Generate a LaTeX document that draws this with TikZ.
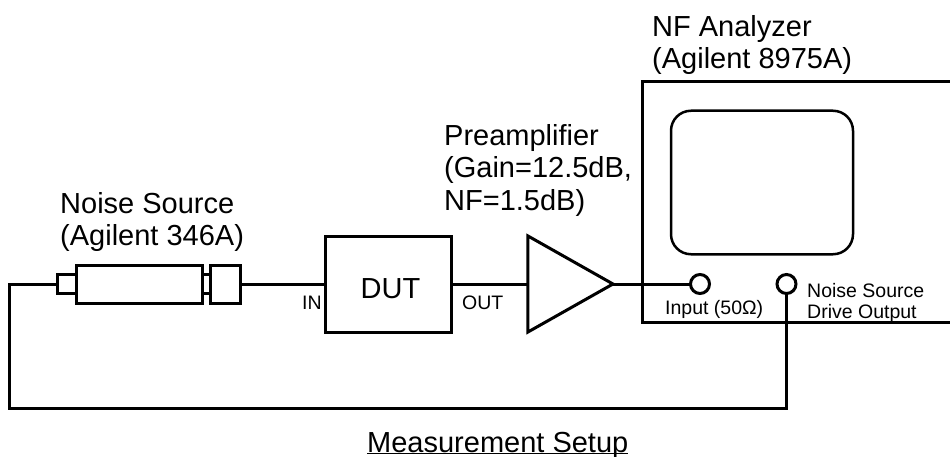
\documentclass[tikz,border=0pt]{standalone}
\usepackage{fontspec}
\setmainfont{Liberation Sans}
\usetikzlibrary{shapes.geometric}
\tikzset{
  box/.style={draw=black,line width=3pt,rectangle,inner sep=0pt,outer sep=0pt,fill=white},
  wire/.style={draw=black,line width=3pt,line join=miter},
  jack/.style={draw=black,line width=3pt,circle,inner sep=0pt,outer sep=0pt,minimum size=19pt,fill=white},
  big/.style={font=\fontsize{29}{32.5}\selectfont,align=left,anchor=north west,inner sep=0pt},
  small/.style={font=\fontsize{19.5}{21}\selectfont,align=left,inner sep=0pt},
  amp/.style={draw=black,line width=3pt,isosceles triangle,isosceles triangle stretches,shape border rotate=0,inner sep=0pt,outer sep=0pt,minimum height=85pt,minimum width=96pt,fill=white}
}
\begin{document}
\begin{tikzpicture}[x=1pt,y=-1pt]
\useasboundingbox (0,0) rectangle (950,457);
\coordinate (c1) at (9,284);
\coordinate (c2) at (9,408.5);
\coordinate (c3) at (786.5,408.5);
\coordinate (ar) at (950,322);
\coordinate (at) at (950,81.5);
\coordinate (ab) at (642,322);
\coordinate (al) at (642,81.5);
\draw[wire] (at) -- (al) -- (ab) -- (ar);
\node[box,minimum width=182pt,minimum height=143.5pt,rounded corners=20pt,line width=2.5pt] (screen) at (762,182.5) {};
\node[box,minimum width=19pt,minimum height=19pt] (tail) at (66.5,284) {};
\node[box,minimum width=126pt,minimum height=38pt] (body) at (139,284) {};
\node[box,minimum width=8pt,minimum height=19pt] (neck) at (206,284) {};
\node[box,minimum width=30pt,minimum height=38pt] (head) at (225,284) {};
\node[box,minimum width=125.5pt,minimum height=96pt,font=\fontsize{29}{32}\selectfont,text height=28pt,text depth=0pt] (dut) at (388.5,284) {\hspace*{4pt}DUT};
\node[amp] (pre) at (556,284) {};
\node[jack] (in) at (700,284) {};
\node[jack] (drv) at (786.5,284) {};
\draw[wire] (tail.west) -- (c1) -- (c2) -- (c3) -- (drv.south);
\draw[wire] (head.east) -- (dut.west);
\draw[wire] (dut.east) -- (pre.lower side);
\draw[wire] (pre.apex) -- (in.west);
\node[big] (lna) at (652,15) {NF Analyzer\\(Agilent 8975A)};
\node[big] (lpr) at (444,124) {Preamplifier\\(Gain=12.5dB,\\NF=1.5dB)};
\node[big] (lns) at (60,192) {Noise Source\\(Agilent 346A)};
\node[small,anchor=base west] (lin) at (302,309) {IN};
\node[small,anchor=base west] (lout) at (462,309) {OUT};
\node[small,anchor=base west] (linp) at (665,314) {Input (50Ω)};
\node[small,anchor=north west] (ldrv) at (807,283) {Noise Source\\Drive Output};
\node[font=\fontsize{29}{32}\selectfont,anchor=base west,inner sep=0pt] (cap) at (367,452) {\underbar{Measurement Setup}};
\end{tikzpicture}
\end{document}
